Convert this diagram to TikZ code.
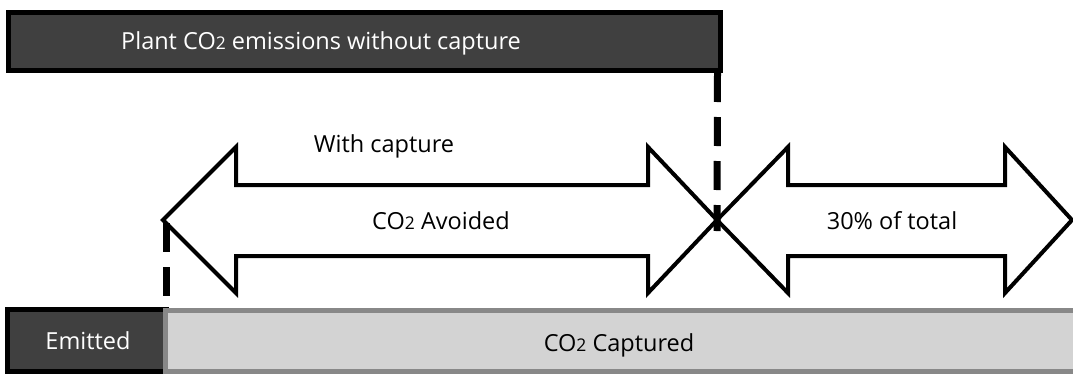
\documentclass[tikz,border=0pt]{standalone}
\usepackage{fontspec}
\setmainfont{Open Sans}
\definecolor{darkfill}{HTML}{404040}
\definecolor{lightfill}{HTML}{D3D3D3}
\definecolor{grayline}{HTML}{888888}
\newcommand{\COtwo}{CO{\fontsize{17.5}{20}\selectfont 2}}
\begin{document}
\begin{tikzpicture}[x=1pt,y=-1pt,
  darkbox/.style={draw=black,line width=5pt,fill=darkfill},
  lightbox/.style={draw=grayline,line width=5pt,fill=lightfill},
  blockarrow/.style={draw=black,line width=4pt,fill=white,line join=miter},
  dashline/.style={line width=7pt,dash pattern=on 29pt off 15pt},
  lbl/.style={font=\fontsize{23.5}{28}\selectfont,inner sep=0pt},
  wlbl/.style={lbl,text=white}]
\useasboundingbox (0,0) rectangle (1073,375);
% top box
\draw[darkbox] (8.5,12.5) rectangle (720.5,70.5);
\node[wlbl] (toplbl) at (321,43) {Plant \COtwo{} emissions without capture};
\coordinate (topbot) at (717.5,73);
% arrows
\coordinate (a1l) at (163,220);
\coordinate (a1r) at (717,220);
\coordinate (a2r) at (1072,220);
\draw[blockarrow] (a1l) -- (236,147) -- (236,185) -- (648,185) -- (648,147) -- (a1r)
  -- (648,293) -- (648,256) -- (236,256) -- (236,293) -- cycle;
\draw[blockarrow] (a1r) -- (788,147) -- (788,185) -- (1005,185) -- (1005,147) -- (a2r)
  -- (1005,293) -- (1005,256) -- (788,256) -- (788,293) -- cycle;
\node[lbl] (avoid) at (441,221) {\COtwo{} Avoided};
\node[lbl] (pct) at (892,221) {30\% of total};
\node[lbl] (with) at (384,146) {With capture};
% bottom bar
\draw[darkbox] (7.5,309.5) rectangle (166,371.5);
\draw[lightbox] (165.5,310.5) rectangle (1080,371.5);
\node[wlbl] (emit) at (88,341) {Emitted};
\node[lbl] (capt) at (619,345) {\COtwo{} Captured};
\coordinate (capttop) at (166,297);
\coordinate (a1lb) at (166,223);
% dashed connectors
\draw[dashline] (topbot) -- (a1r |- 0,231);
\draw[dashline] (a1lb) -- (capttop);
\end{tikzpicture}
\end{document}
